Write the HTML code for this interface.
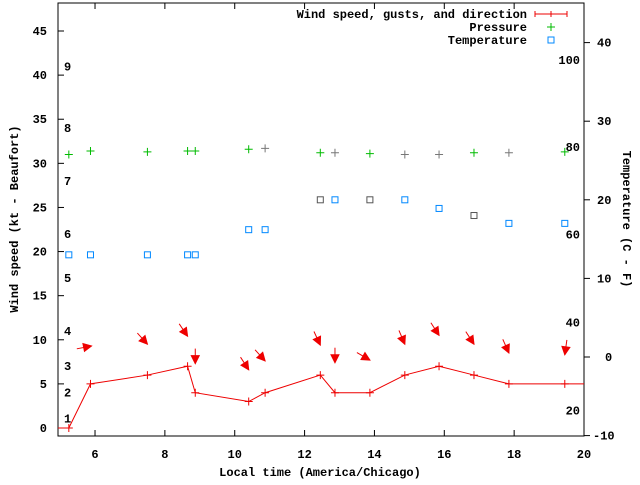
<!DOCTYPE html>
<html><head><meta charset="utf-8"><style>
body{margin:0;background:#fff}
svg text{font-family:"Liberation Mono",monospace;font-weight:bold;font-size:12px}
</style></head><body>
<svg id="c" width="640" height="480" xmlns="http://www.w3.org/2000/svg">
<rect x="58" y="3" width="526" height="433" fill="none" stroke="#000"/>
<g id="axes"></g><g id="marks"></g>
<text x="0" y="0" transform="translate(18,219) rotate(-90)" text-anchor="middle">Wind speed (kt - Beaufort)</text>
<text x="0" y="0" transform="translate(623,219) rotate(90)" text-anchor="middle">Temperature (C - F)</text>
<text x="320" y="476" text-anchor="middle">Local time (America/Chicago)</text>
<g>
<text x="527" y="18" text-anchor="end">Wind speed, gusts, and direction</text>
<path d="M535 14H567M535 11V17M551 11V17M567 11V17" stroke="#e00" fill="none"/>
<text x="527" y="31" text-anchor="end">Pressure</text>
<path d="M547 27H555M551 23V31" stroke="#0b0"/>
<text x="527" y="44" text-anchor="end">Temperature</text>
<rect x="548" y="37" width="6" height="6" fill="none" stroke="#08f"/>
</g>
</svg>
<script>
const times=[5.25,5.87,7.5,8.65,8.87,10.4,10.87,12.45,12.87,13.87,14.87,15.85,16.85,17.85,19.45];
const windSpeed=[0,5,6,7,4,3,4,6,4,4,6,7,6,5,5];
const pressure=[31,31.4,31.3,31.4,31.4,31.6,31.7,31.2,31.2,31.1,31,31,31.2,31.2,31.3];
const pressureGray=[0,0,0,0,0,0,1,0,1,0,1,1,0,1,0];
const temperature=[13,13,13,13,13,16.2,16.2,20,20,20,20,18.9,18,17,17];
const tempGray=[0,0,0,0,0,0,0,1,0,1,0,0,1,0,0];
const arrowTimes=[5.9,7.5,8.65,8.87,10.4,10.87,12.45,12.87,13.87,14.87,15.85,16.85,17.85,19.45];
const arrowHeadY=[9.3,9.5,10.4,7.3,6.6,7.6,9.4,7.4,7.7,9.5,10.5,9.5,8.5,8.3];
const arrowAngle=[-11,48,56,90,57,48,65,90,30,67,57,57,66,98];
const xTicks=[6,8,10,12,14,16,18,20];
const yTicks=[0,5,10,15,20,25,30,35,40,45];
const y2Ticks=[-10,0,10,20,30,40];
const beaufortLabels=["1","2","3","4","5","6","7","8","9"];
const beaufortY=[1.1,4,7,11,17,22,28,34,41];
const fahrenheitLabels=["20","40","60","80","100"];
const fahrenheitY=[-6.8,4.4,15.6,26.7,37.8];
const NS="http://www.w3.org/2000/svg";
const X=t=>58+(t-4.94)*(526/15.06);
const Y=v=>428-v*8.822;
const Y2=v=>357-v*7.86;
const ax=document.getElementById('axes'),mk=document.getElementById('marks');
function mkEl(tag,attrs,parent){const e=document.createElementNS(NS,tag);for(const k in attrs)e.setAttribute(k,attrs[k]);parent.appendChild(e);return e;}
xTicks.forEach(t=>{
 const l=mkEl('path',{d:`M${X(t)} 436V430M${X(t)} 3V9`,stroke:'#000'},ax);
 
 
 const tx=mkEl('text',{x:X(t),y:458,'text-anchor':'middle'},ax);tx.textContent=t;
 
 
});
yTicks.forEach(v=>{
 const l=mkEl('path',{d:`M58 ${Y(v)}H64`,stroke:'#000'},ax);
 
 
 const tx=mkEl('text',{x:47,y:Y(v)+4,'text-anchor':'end'},ax);tx.textContent=v;
 
 
});
y2Ticks.forEach(v=>{
 const l=mkEl('path',{d:`M584 ${Y2(v)}H590`,stroke:'#000'},ax);
 
 
 const tx=mkEl('text',{x:v<0?593:(v===0?605:597),y:Y2(v)+4,'text-anchor':'start'},ax);tx.textContent=v;
 
 
});
beaufortLabels.forEach((s,i)=>{
 const tx=mkEl('text',{x:64,y:Y(beaufortY[i])+4},ax);tx.textContent=s;
 
 
});
fahrenheitLabels.forEach((s,i)=>{
 const tx=mkEl('text',{x:580,y:Y2(fahrenheitY[i])+4,'text-anchor':'end'},ax);tx.textContent=s;
 
 
});
let d=`M58 ${Y(windSpeed[0])}`;
times.forEach((t,i)=>{d+=`L${X(t)} ${Y(windSpeed[i])}`;});
d+=`L584 ${Y(windSpeed[windSpeed.length-1])}`;
const wl=mkEl('path',{d:d,stroke:'#e00',fill:'none'},mk);


times.forEach((t,i)=>{
 const x=X(t),y=Y(windSpeed[i]);
 const p=mkEl('path',{d:`M${x-4} ${y}H${x+4}M${x} ${y-4}V${y+4}`,stroke:'#e00'},mk);
 
 
 const y2=Y(pressure[i]);
 const q=mkEl('path',{d:`M${x-4} ${y2}H${x+4}M${x} ${y2-4}V${y2+4}`,stroke:pressureGray[i]?'#777':'#0b0'},mk);
 
 
 const y3=Y2(temperature[i]);
 const r=mkEl('rect',{x:x-3,y:y3-3,width:6,height:6,fill:'none',stroke:tempGray[i]?'#555':'#08f'},mk);
 
 
});
arrowTimes.forEach((t,i)=>{
 const hx=X(t),hy=Y(arrowHeadY[i]),a=arrowAngle[i]*Math.PI/180;
 const c=Math.cos(a),s=Math.sin(a);
 const tx=hx-15*c,ty=hy-15*s;
 const bx=hx-8*c,by=hy-8*s;
 const g=mkEl('g',{},mk);
 
 
 mkEl('path',{d:`M${tx} ${ty}L${hx} ${hy}`,stroke:'#e00'},g);
 mkEl('path',{d:`M${hx} ${hy}L${bx-4*s} ${by+4*c}L${bx+4*s} ${by-4*c}Z`,fill:'#e00',stroke:'#e00'},g);
});
</script>
</body></html>
